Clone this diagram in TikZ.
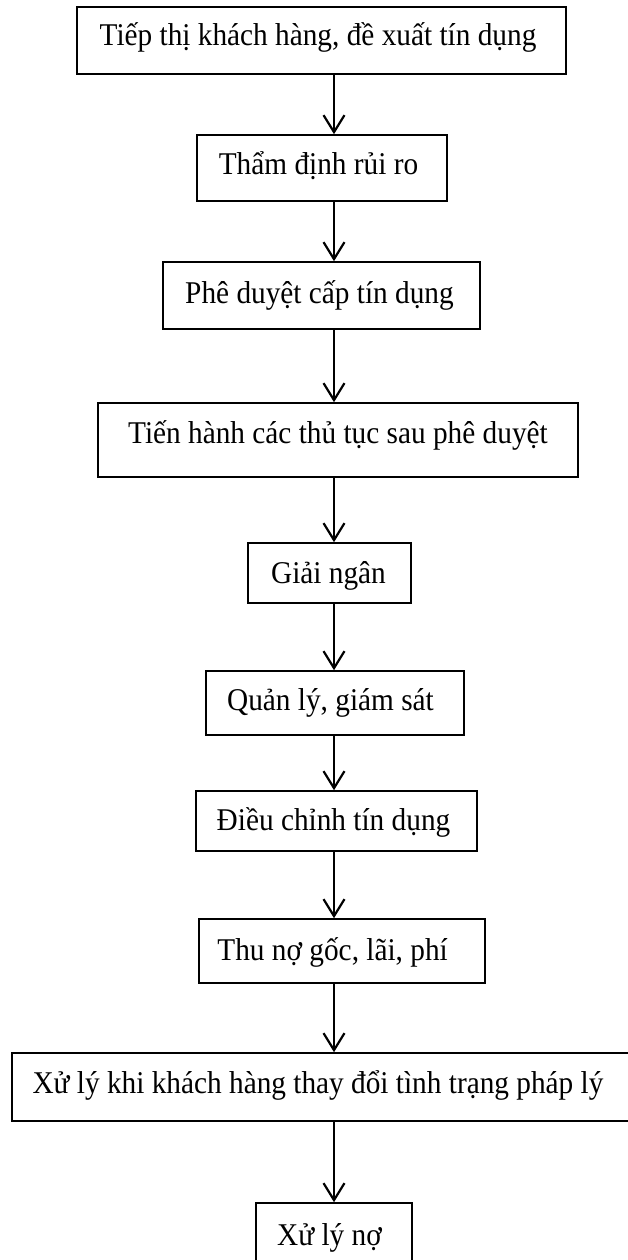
\documentclass[tikz,border=0pt]{standalone}
\usepackage{fontspec}
\setmainfont{Liberation Serif}
\usetikzlibrary{arrows.meta}
\newcommand{\tallish}[1]{\scalebox{1}[1.08]{#1}}
\begin{document}
\begin{tikzpicture}[x=1pt,y=-1pt,
  box/.style={draw, line width=1.6pt, inner sep=0pt, rectangle},
  lbl/.style={anchor=base, inner sep=0pt, font=\fontsize{29.3}{35}\selectfont},
  arr/.style={line width=2.2pt, -{Straight Barb[length=17pt,width=21pt,line width=2.2pt]}}]
\useasboundingbox (0,0) rectangle (627,1260);
\coordinate (ax) at (334,0);
\node[box, minimum width=489pt, minimum height=67pt] (b1) at (321.5,40.5) {};
\node[box, minimum width=250pt, minimum height=66pt] (b2) at (322,168) {};
\node[box, minimum width=317pt, minimum height=67pt] (b3) at (321.5,295.5) {};
\node[box, minimum width=480pt, minimum height=74pt] (b4) at (338,440) {};
\node[box, minimum width=163pt, minimum height=60pt] (b5) at (329.5,573) {};
\node[box, minimum width=258pt, minimum height=64pt] (b6) at (335,703) {};
\node[box, minimum width=281pt, minimum height=60pt] (b7) at (336.5,821) {};
\node[box, minimum width=286pt, minimum height=64pt] (b8) at (342,951) {};
\node[box, minimum width=618pt, minimum height=68pt] (b9) at (321,1087) {};
\node[box, minimum width=156pt, minimum height=72pt] (b10) at (334,1239) {};
\node[lbl] (t1) at (318,46) {\tallish{Tiếp thị khách hàng, đề xuất tín dụng}};
\node[lbl] (t2) at (318.5,175) {\tallish{Thẩm định rủi ro}};
\node[lbl] (t3) at (319.5,303) {\tallish{Phê duyệt cấp tín dụng}};
\node[lbl] (t4) at (338,443) {\tallish{Tiến hành các thủ tục sau phê duyệt}};
\node[lbl] (t5) at (328.5,583) {\tallish{Giải ngân}};
\node[lbl] (t6) at (330.5,710) {\tallish{Quản lý, giám sát}};
\node[lbl] (t7) at (333.5,830) {\tallish{Điều chỉnh tín dụng}};
\node[lbl] (t8) at (332.6,960) {\tallish{Thu nợ gốc, lãi, phí}};
\node[lbl] (t9) at (318,1093) {\tallish{Xử lý khi khách hàng thay đổi tình trạng pháp lý}};
\node[lbl] (t10) at (329.5,1245) {\tallish{Xử lý nợ}};
\foreach \a/\b in {b1/b2,b2/b3,b3/b4,b4/b5,b5/b6,b6/b7,b7/b8,b8/b9,b9/b10}
  \draw[arr] (\a.south -| ax) -- (\b.north -| ax);
\end{tikzpicture}
\end{document}
